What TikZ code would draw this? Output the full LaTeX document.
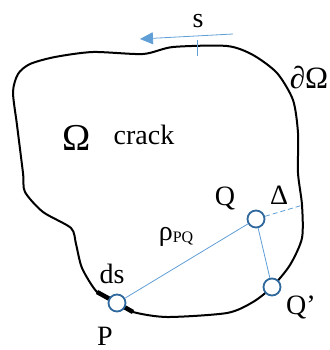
\documentclass[tikz,border=0pt]{standalone}
\usepackage{fontspec}
\setmainfont{Liberation Serif}
\usepackage{xcolor}
\usepackage{tikz}
\usetikzlibrary{arrows.meta,positioning}

\definecolor{ringblue}{RGB}{46,104,156}
\definecolor{lineblue}{RGB}{96,158,214}

\begin{document}
\begin{tikzpicture}[
  x=1pt,y=-1pt,
  pt/.style={circle,draw=ringblue,line width=1.8pt,fill=white,minimum size=17pt,inner sep=0pt},
  lbl/.style={font=\fontsize{28}{28}\selectfont,inner sep=0pt},
  conn/.style={draw=lineblue,line width=0.8pt},
  bnd/.style={line width=2pt,line join=round}
]
\useasboundingbox (0,0) rectangle (329,350);
% boundary of the domain
\draw[bnd] plot[smooth cycle,tension=0.45] coordinates {
  (117,303) (97,292) (82,268) (76,244) (71,228) (43,212) (25,192) (23,173)
  (17,125) (13,92) (18,74) (30,64) (55,57) (93,52) (143,54) (173,47) (227,46)
  (253,55) (277,73) (293,100) (298,133) (298,173) (302,205) (302,238)
  (290,265) (272,287) (253,302) (227,313) (167,317) (133,312)};
% element ds
\draw[line width=4.5pt] plot[smooth,tension=0.5] coordinates {(97,292) (117,303) (133,312)};
% tangent direction s
\coordinate (stail) at (233,34);
\coordinate (shead) at (140,39);
\coordinate (ttop) at (197,40);
\coordinate (tbot) at (197,56);
\draw[conn,-{Triangle[length=13pt,width=12pt]}] (stail) -- (shead);
\draw[conn] (ttop) -- (tbot);
% points
\node[pt] (P) at (117,303) {};
\node[pt] (Q) at (256,219) {};
\node[pt] (Qp) at (272,287) {};
\coordinate (edge) at (303,205);
\draw[conn] (P) -- (Q);
\draw[conn] (Q) -- (Qp);
\draw[conn,dashed,dash pattern=on 5pt off 3pt] (Q) -- (edge);
% labels
\node[lbl] (sl) at (198,21) {s};
\node[lbl,font=\fontsize{31}{31}\selectfont] (dO) at (309,78) {∂Ω};
\node[lbl,font=\fontsize{38}{38}\selectfont] (Om) at (77,138) {Ω};
\node[lbl] (cr) at (144,135) {crack};
\node[lbl] (Ql) at (225,198) {Q};
\node[lbl] (Dl) at (279,195) {Δ};
\node[lbl] (rho) at (176,237) {ρ\raisebox{-2pt}{\fontsize{16}{16}\selectfont PQ}};
\node[lbl] (dsl) at (112,274) {ds};
\node[lbl] (Pl) at (105,336) {P};
\node[lbl] (Qpl) at (301,307) {Q’};
\end{tikzpicture}
\end{document}
